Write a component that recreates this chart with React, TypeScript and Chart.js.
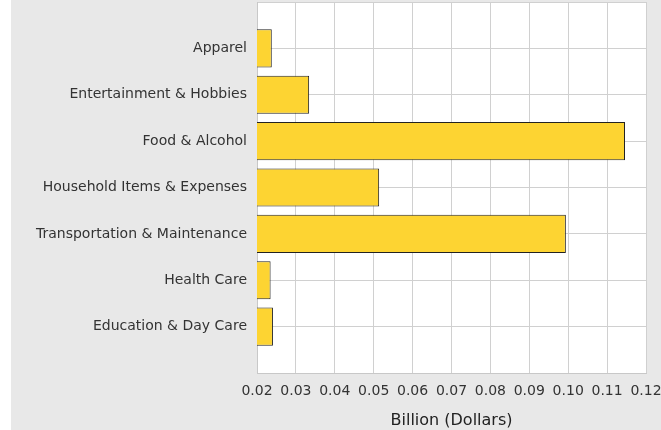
import React, { useEffect, useRef } from "react";
import { Chart, registerables } from "chart.js";

Chart.register(...registerables);

const categories = [
  "Apparel",
  "Entertainment & Hobbies",
  "Food & Alcohol",
  "Household Items & Expenses",
  "Transportation & Maintenance",
  "Health Care",
  "Education & Day Care",
];
const values = [0.0238, 0.0334, 0.1146, 0.0514, 0.0994, 0.0235, 0.0241];
const xMin = 0.02;
const xMax = 0.12;
const xStep = 0.01;
const xTitle = "Billion (Dollars)";

const plotBg = {
  id: "plotBg",
  beforeDraw(chart: any) {
    const { ctx, chartArea } = chart;
    if (!chartArea) return;
    ctx.save();
    ctx.fillStyle = "#ffffff";
    ctx.fillRect(chartArea.left, chartArea.top, chartArea.right - chartArea.left, chartArea.bottom - chartArea.top);
    ctx.restore();
  },
};

export default function App() {
  const ref = useRef<HTMLCanvasElement>(null);
  useEffect(() => {
    if (!ref.current) return;
    const labels = ["", ...categories, ""];
    const data = [null, ...values, null];
    const chart = new Chart(ref.current, {
      type: "bar",
      data: {
        labels,
        datasets: [
          {
            data,
            backgroundColor: "#fdd432",
            borderColor: "#222222",
            borderWidth: 1,
            borderSkipped: false,
            barPercentage: 0.82,
            categoryPercentage: 1,
          },
        ],
      },
      options: {
        indexAxis: "y",
        animation: false,
        responsive: false,
        maintainAspectRatio: false,
        layout: { padding: { top: 2, right: 15, left: 0, bottom: 0 } },
        plugins: { legend: { display: false }, tooltip: { enabled: false } },
        scales: {
          y: {
            type: "category",
            offset: false,
            grid: { color: "#d0d0d0", lineWidth: 1, drawTicks: false, offset: false },
            border: { color: "#c8c8c8" },
            ticks: {
              color: "#333333",
              padding: 10,
              font: { family: "DejaVu Sans", size: 14 },
              autoSkip: false,
            },
            afterFit(scale: any) {
              scale.width = 246;
              scale.paddingTop = 0;
              scale.paddingBottom = 0;
            },
          },
          x: {
            type: "linear",
            min: xMin,
            max: xMax,
            grid: { color: "#d0d0d0", lineWidth: 1, drawTicks: false },
            border: { color: "#c8c8c8" },
            ticks: {
              stepSize: xStep,
              color: "#333333",
              padding: 10,
              maxRotation: 0,
              font: { family: "DejaVu Sans", size: 14 },
              callback: (v: any) => Number(v).toFixed(2),
            },
            title: {
              display: true,
              text: xTitle,
              color: "#222222",
              font: { family: "DejaVu Sans", size: 16 },
              padding: { top: 4, bottom: 0 },
            },
            afterFit(scale: any) {
              scale.height = 57;
              scale.paddingLeft = 0;
              scale.paddingRight = 0;
            },
          },
        },
      },
      plugins: [plotBg],
    });
    return () => chart.destroy();
  }, []);
  return (
    <div style={{ position: "fixed", left: 11, top: 0, width: 650, height: 430, background: "#e8e8e8" }}>
      <canvas ref={ref} width={650} height={430} style={{ display: "block" }} />
    </div>
  );
}
